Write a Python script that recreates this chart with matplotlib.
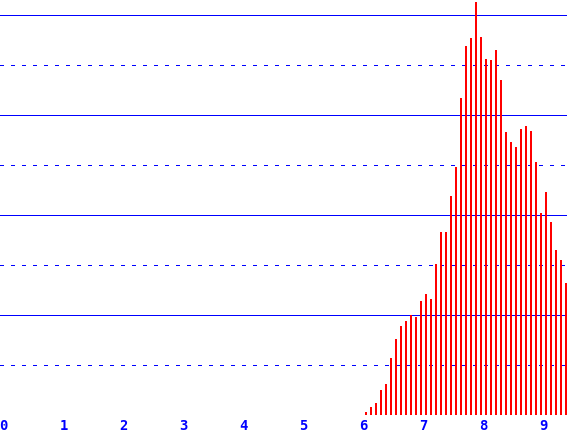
import numpy as np
import matplotlib
matplotlib.use("Agg")
import matplotlib.pyplot as plt

# bar heights, one bar every 1/12 unit starting just past 6
heights = [0.054, 0.16, 0.24, 0.51, 0.62, 1.14, 1.52, 1.78, 1.88, 2.00,
           1.96, 2.28, 2.42, 2.32, 3.02, 3.66, 3.66, 4.38, 4.96, 6.34,
           7.38, 7.54, 8.26, 7.56, 7.12, 7.10, 7.30, 6.70, 5.66, 5.46,
           5.36, 5.72, 5.78, 5.68, 5.06, 4.04, 4.46, 3.86, 3.30, 3.10,
           2.64]
x_start = 6.04
x_step = 1 / 12
xs = x_start + x_step * np.arange(len(heights))

xticks = [0, 1, 2, 3, 4, 5, 6, 7, 8, 9]
solid_y = [2, 4, 6, 8]
dotted_y = [1, 3, 5, 7]

px = 72 / 100  # one pixel in points

fig = plt.figure(figsize=(5.67, 4.35), dpi=100)
ax = fig.add_axes([0, 19 / 435, 1, 415 / 435])

for y in solid_y:
    ax.axhline(y, color="#0000ff", lw=px, zorder=1, antialiased=False)
for y in dotted_y:
    ax.axhline(y, color="#0000ff", lw=px, dashes=(3, 7), zorder=1,
               antialiased=False)
ax.axhline(0.01, color="#0000ff", lw=px, zorder=3, antialiased=False)

ax.vlines(xs, 0, heights, colors="#ff0000", lw=2 * px, zorder=2,
          antialiased=False)

ax.set_xlim(-3.5 / 60, (567 - 3.5) / 60)
ax.set_ylim(0, 8.3)
ax.set_xticks(xticks)
ax.set_xticklabels([str(t) for t in xticks], color="#0000ff",
                   fontfamily="DejaVu Sans Mono", fontsize=10,
                   fontweight="bold")
ax.tick_params(axis="x", length=0, pad=2)
ax.set_yticks([])
for s in ax.spines.values():
    s.set_visible(False)

fig.savefig("out.png", dpi=100, facecolor="white")
